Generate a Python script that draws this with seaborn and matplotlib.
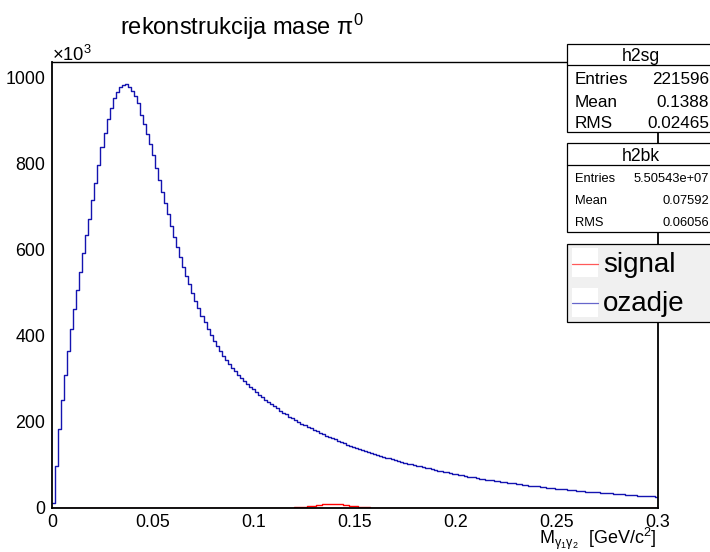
import numpy as np
import pandas as pd
import matplotlib
matplotlib.use("Agg")
import matplotlib.pyplot as plt
from matplotlib.patches import Rectangle
from matplotlib.lines import Line2D
from matplotlib.ticker import MultipleLocator, FixedLocator, FixedFormatter
import seaborn as sns

# ---------------- data (in units of 10^3) ----------------
x_min, x_max, n_bins = 0.0, 0.3, 200

background = [
    12, 97, 183, 251, 309, 364, 415, 462, 506, 548,
    591, 633, 671, 715, 755, 797, 837, 871, 902, 929,
    951, 966, 978, 982, 983, 978, 967, 956, 939, 913,
    891, 869, 845, 819, 788, 761, 734, 708, 682, 655,
    630, 605, 582, 560, 538, 519, 498, 480, 463, 446,
    431, 415, 401, 388, 376, 365, 353, 343, 334, 325,
    317, 309, 301, 294, 287, 281, 275, 269, 263, 257,
    251, 246, 241, 236, 231, 226, 221, 217, 212, 208,
    204, 200, 196, 192, 188, 185, 181, 178, 174, 171,
    168, 165, 162, 159, 156, 153, 150, 147, 145, 142,
    139, 137, 134, 132, 130, 127, 125, 123, 121, 119,
    117, 115, 113, 111, 109, 107, 105, 103, 102, 100,
    98, 97, 95, 93, 92, 90, 89, 87, 86, 84,
    83, 81, 80, 78, 77, 76, 75, 73, 72, 71,
    70, 68, 67, 66, 65, 64, 63, 62, 61, 60,
    59, 58, 57, 56, 55, 54, 53, 52, 51, 50,
    50, 49, 48, 47, 46, 46, 45, 44, 43, 43,
    42, 41, 41, 40, 39, 39, 38, 38, 37, 36,
    36, 35, 35, 34, 34, 33, 33, 32, 32, 31,
    31, 30, 30, 29, 29, 28, 28, 27, 27, 26,
]

signal = ([0.0] * 74 +
          [0.1, 0.2, 0.3, 0.4, 0.6, 0.9, 1.3, 1.8, 2.4, 3.1,
           3.9, 4.8, 5.8, 6.7, 7.6, 8.4, 9.0, 9.4, 9.5, 9.4,
           9.0, 8.4, 7.6, 6.7, 5.8, 4.8, 3.9, 3.1, 2.4, 1.8,
           1.3, 0.9, 0.6, 0.4, 0.3, 0.2, 0.1] +
          [0.0] * 89)

x_ticks = [0, 0.05, 0.1, 0.15, 0.2, 0.25, 0.3]
x_tick_labels = ["0", "0.05", "0.1", "0.15", "0.2", "0.25", "0.3"]
y_ticks = [0, 200, 400, 600, 800, 1000]
y_tick_labels = ["0", "200", "400", "600", "800", "1000"]

title_text = r"rekonstrukcija mase $\mathregular{\pi^{0}}$"
x_label = r"$\mathregular{M_{\gamma_{1}\gamma_{2}}}$  [GeV/c$^{\mathregular{2}}$]"
y_multiplier = r"$\mathregular{\times10^{3}}$"

stats_sg_name = "h2sg"
stats_sg_keys = ["Entries", "Mean", "RMS"]
stats_sg_vals = ["221596", "0.1388", "0.02465"]
stats_bk_name = "h2bk"
stats_bk_keys = ["Entries", "Mean", "RMS"]
stats_bk_vals = ["5.50543e+07", "0.07592", "0.06056"]
legend_labels = ["signal", "ozadje"]

RED = "#ff0000"
BLUE = "#1414b0"

# ---------------- style ----------------
sns.set_style("white")
plt.rcParams["font.family"] = ["Liberation Sans", "DejaVu Sans"]
plt.rcParams["mathtext.fontset"] = "custom"
plt.rcParams["mathtext.rm"] = "Liberation Sans"
plt.rcParams["mathtext.it"] = "Liberation Sans:italic"
plt.rcParams["mathtext.bf"] = "Liberation Sans:bold"
plt.rcParams["text.color"] = "black"
plt.rcParams["axes.labelcolor"] = "black"
plt.rcParams["xtick.color"] = "black"
plt.rcParams["ytick.color"] = "black"
plt.rcParams["axes.edgecolor"] = "black"

W, H = 710, 552
fig = plt.figure(figsize=(W / 100, H / 100), dpi=100)


def fx(px):
    return px / W


def fy(py):
    return 1 - py / H


ax_l, ax_r, ax_t, ax_b = 52, 658, 62, 508
ax = fig.add_axes([fx(ax_l), fy(ax_b), (ax_r - ax_l) / W, (ax_b - ax_t) / H])

bin_width = (x_max - x_min) / n_bins
centers = x_min + bin_width * (np.arange(n_bins) + 0.5)
df_sig = pd.DataFrame({"m": centers, "n": np.asarray(signal, dtype=float)})
df_bkg = pd.DataFrame({"m": centers, "n": np.asarray(background, dtype=float)})

sns.histplot(data=df_sig, x="m", weights="n", binwidth=bin_width, binrange=(x_min, x_max),
             element="step", fill=False, color=RED, linewidth=1.0, ax=ax)
sns.histplot(data=df_bkg, x="m", weights="n", binwidth=bin_width, binrange=(x_min, x_max),
             element="step", fill=False, color=BLUE, linewidth=1.0, ax=ax)

ax.set_xlim(x_min, x_max)
ax.set_ylim(0, 1035)
ax.set_ylabel("")

ax.xaxis.set_major_locator(FixedLocator(x_ticks))
ax.xaxis.set_major_formatter(FixedFormatter(x_tick_labels))
ax.xaxis.set_minor_locator(MultipleLocator(0.01))
ax.yaxis.set_major_locator(FixedLocator(y_ticks))
ax.yaxis.set_major_formatter(FixedFormatter(y_tick_labels))
ax.yaxis.set_minor_locator(MultipleLocator(50))

ax.tick_params(axis="both", which="both", direction="in", top=False, right=False,
               colors="black", labelcolor="black", labelsize=12.8, width=0.9)
ax.tick_params(axis="y", which="major", length=13, pad=5)
ax.tick_params(axis="y", which="minor", length=6.5)
ax.tick_params(axis="x", which="major", length=9.4, pad=4.3)
ax.tick_params(axis="x", which="minor", length=4.7)

for side, sp in ax.spines.items():
    sp.set_visible(True)
    sp.set_color("black")
    sp.set_linewidth(1.0 if side == "top" else 1.3)

# x-axis title, right aligned at the axis end
ax.set_xlabel(x_label, fontsize=13, ha="right", va="baseline", color="black")
ax.xaxis.set_label_coords((656.5 - ax_l) / (ax_r - ax_l), (ax_b - 544) / (ax_b - ax_t))

# y multiplier
fig.text(fx(51.5), fy(61), y_multiplier, fontsize=13.2, ha="left", va="baseline")

# title
fig.text(fx(119.5), fy(35), title_text, fontsize=17, ha="left", va="baseline")


# ---------------- stats boxes ----------------
def stats_box(top, sep, bottom, title_base, name, keys, vals, row_bases, fsize):
    box_l, box_r = 567.3, 715
    fig.add_artist(Rectangle((fx(box_l), fy(bottom)), (box_r - box_l) / W, (bottom - top) / H,
                             transform=fig.transFigure, facecolor="white",
                             edgecolor="black", linewidth=0.9, zorder=5))
    fig.add_artist(Line2D([fx(box_l), fx(box_r)], [fy(sep), fy(sep)],
                          transform=fig.transFigure, color="black", linewidth=0.9, zorder=6))
    fig.text(fx(640.5), fy(title_base), name, fontsize=12.7, ha="center", va="baseline", zorder=7)
    for k, v, yb in zip(keys, vals, row_bases):
        fig.text(fx(575), fy(yb), k, fontsize=fsize, ha="left", va="baseline", zorder=7)
        fig.text(fx(709.3), fy(yb), v, fontsize=fsize, ha="right", va="baseline", zorder=7)


stats_box(44, 65, 131.7, 60.7, stats_sg_name, stats_sg_keys, stats_sg_vals,
          [84.3, 106.7, 127.7], 12.3)
stats_box(143.3, 165, 231.7, 160.7, stats_bk_name, stats_bk_keys, stats_bk_vals,
          [181.7, 204, 225.7], 9.3)

# ---------------- legend ----------------
leg_l, leg_r, leg_t, leg_b = 567.3, 715, 244, 321.7
fig.add_artist(Rectangle((fx(leg_l), fy(leg_b)), (leg_r - leg_l) / W, (leg_b - leg_t) / H,
                         transform=fig.transFigure, facecolor="#f0f0f0",
                         edgecolor="black", linewidth=0.9, zorder=5))
for (lab, col, s_top, s_bot, line_y, base) in [
        (legend_labels[0], RED, 248, 277, 264, 272),
        (legend_labels[1], BLUE, 288, 317, 303.3, 310.7)]:
    fig.add_artist(Rectangle((fx(571.7), fy(s_bot)), (598.3 - 571.7) / W, (s_bot - s_top) / H,
                             transform=fig.transFigure, facecolor="white",
                             edgecolor="none", zorder=6))
    fig.add_artist(Line2D([fx(572), fx(598.3)], [fy(line_y), fy(line_y)],
                          transform=fig.transFigure, color=col, linewidth=0.9,
                          alpha=0.65, zorder=7))
    fig.text(fx(603.3), fy(base), lab, fontsize=20, ha="left", va="baseline", zorder=7)

fig.savefig("out.png", dpi=100)
